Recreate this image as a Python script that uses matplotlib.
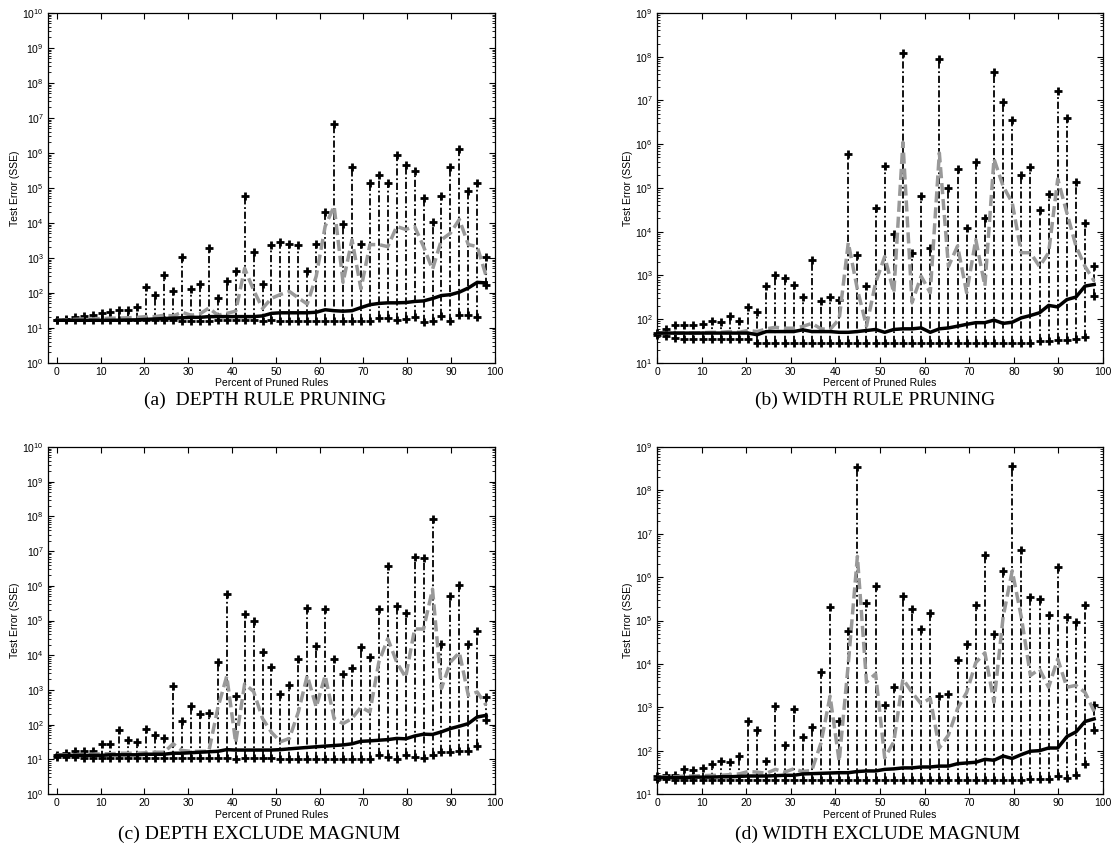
import numpy as np
import matplotlib
matplotlib.use("Agg")
import matplotlib.pyplot as plt
from matplotlib.ticker import LogLocator, MultipleLocator, NullFormatter

plt.rcParams['font.family'] = ['Liberation Sans', 'DejaVu Sans']

# --- data: percent of pruned rules, 49 pruning steps ---
pruned = np.linspace(0, 98, 49)

# (a) depth rule pruning
depth_max = [16.5, 18.5, 21, 22, 24, 27, 28, 32, 33, 40, 150, 85, 316, 110, 1050, 130, 185, 1950, 70, 215,
             435, 6e4, 1450, 180, 2400, 2800, 2500, 2300, 415, 2500, 2.1e4, 6.7e6, 9300, 3.9e5, 2500, 1.35e5,
             2.3e5, 1.35e5, 8.5e5, 4.4e5, 3.1e5, 5e4, 1.07e4, 5.8e4, 3.9e5, 1.3e6, 8e4, 1.4e5, 1070]
depth_min = [16.5, 16.5, 16.5, 16.5, 16.5, 16.5, 16.5, 16.5, 16.5, 16.5, 16.5, 16.5, 16.5, 16.5, 16, 16, 16, 16,
             16.5, 16.5, 16.5, 16.5, 16.5, 16, 16.5, 15.5, 15.5, 15.5, 15.5, 15.5, 15.5, 15.5, 15.5, 15.5, 15.5,
             15.5, 19, 19, 17, 18, 20.5, 14.5, 15.5, 21.5, 15.5, 24, 24, 20.5, 173]
depth_mean = [16.5, 17, 17.5, 18, 18, 18.5, 19, 19, 19.5, 20, 21, 21, 23, 22, 28, 23, 25, 37, 23, 26,
              30, 500, 120, 36, 70, 90, 110, 72, 48, 300, 8000, 3e4, 200, 3300, 130, 2400, 2400, 2100,
              7900, 6500, 7900, 2100, 470, 3300, 5100, 1.26e4, 2400, 2100, 300]
depth_median = [16.5, 16.5, 16.5, 16.5, 16.5, 16.5, 16.5, 16.6, 16.8, 17, 17.5, 18, 18.5, 19, 19.5, 20, 20,
                21, 21, 21, 21, 21, 21, 22, 26, 27, 27, 27, 27, 28, 33, 31, 30, 31, 38, 46, 50, 52, 52, 53,
                57, 59, 69, 84, 89, 105, 138, 200, 193]

# (b) width rule pruning
width_max = [48, 60, 73, 75, 75, 79, 93, 88, 120, 92, 187, 147, 560, 1030, 890, 610, 320, 2300, 255, 320,
             280, 5.9e5, 2900, 570, 3.4e4, 3.2e5, 8700, 1.2e8, 3300, 6.6e4, 4300, 9e7, 9.8e4, 2.7e5, 1.2e4,
             4e5, 2.1e4, 4.4e7, 9.3e6, 3.6e6, 2e5, 3e5, 3.2e4, 7.4e4, 1.66e7, 4e6, 1.4e5, 1.55e4, 1600]
width_min = [43, 41, 38, 35, 35, 35, 35, 35, 35, 35, 35, 29, 29, 29, 29, 28, 29, 29, 29, 28,
             29, 29, 29, 28, 29, 29, 29, 29, 29, 28, 29, 29, 29, 29, 29, 29, 29, 28, 29, 29,
             29, 29, 31, 32, 33, 34, 36, 40, 340]
width_mean = [48, 48, 48, 48, 48, 49, 50, 50, 52, 50, 55, 52, 60, 65, 62, 62, 68, 80, 60, 58,
              100, 5600, 480, 69, 680, 2700, 400, 1.1e6, 240, 960, 400, 6.3e5, 1600, 4700, 400, 6600,
              570, 4.6e5, 1.1e5, 4.6e4, 3300, 3300, 1600, 3300, 1.6e5, 2.7e4, 4700, 1600, 740]
width_median = [48, 48, 48, 48, 48, 48, 48, 48, 48, 48, 48, 44, 52, 52, 52, 52, 57, 52, 52, 52,
                50, 50, 52, 55, 58, 50, 58, 60, 60, 63, 50, 60, 63, 69, 76, 83, 83, 95, 80, 85,
                107, 121, 140, 206, 190, 280, 320, 570, 620]

# (c) depth exclude magnum
dex_max = [13.5, 15.5, 17, 17, 17, 28, 28, 70, 35, 32, 75, 50, 40, 1300, 130, 350, 200, 210, 6500, 5.8e5,
           650, 1.5e5, 1e5, 1.2e4, 4500, 750, 1350, 7800, 2.3e5, 1.8e4, 2.1e5, 7800, 2900, 4200, 1.7e4,
           8700, 2.1e5, 3.7e6, 2.7e5, 1.7e5, 6.9e6, 6.5e6, 8.5e7, 2.1e4, 5.2e5, 1.07e6, 2.1e4, 5.1e4, 620]
dex_min = [11.5, 11.5, 11.5, 11, 11, 11, 11, 11, 11, 11, 11, 11, 11, 11, 11, 11, 11, 11, 11, 11,
           10, 11, 11, 11, 11, 10.5, 10.5, 10, 10, 10.5, 10.5, 10.5, 10.5, 10.5, 10.5, 10.5, 13, 12, 10.5,
           13, 12, 11, 13.5, 16.5, 16.5, 17, 17, 24.5, 133]
dex_mean = [13.5, 13.5, 13.5, 14, 14, 14.5, 14.5, 15, 15, 15, 15.5, 16, 16, 28, 18, 17, 17, 17, 300, 2500,
            30, 1500, 900, 150, 60, 32, 40, 230, 2600, 320, 2600, 150, 107, 150, 320, 230, 6300, 3e4,
            6300, 2300, 5.7e4, 5.7e4, 8e5, 1100, 6300, 1.2e4, 700, 870, 360]
dex_median = [13, 13, 13, 13, 13, 13, 13.5, 13.5, 13.5, 13.5, 14, 14, 14, 15, 15, 15.5, 16, 16.5, 17, 19,
              18.5, 18.5, 18.5, 18.5, 18.5, 19, 20, 21, 22, 23, 24, 25, 26, 28, 33, 34, 35.5, 37, 40, 39,
              47, 53, 52, 62, 77, 90, 107, 166, 185]

# (d) width exclude magnum
wex_max = [26, 27, 28, 37, 36, 40, 49, 57, 55, 74, 470, 300, 59, 1070, 133, 930, 205, 350, 6600, 2.1e5,
           470, 5.6e4, 3.5e8, 2.5e5, 6.2e5, 1150, 2900, 3.7e5, 1.8e5, 6.5e4, 1.5e5, 1800, 2000, 1.2e4,
           2.9e4, 2.3e5, 3.3e6, 4.8e4, 1.4e6, 3.6e8, 4.3e6, 3.4e5, 3.1e5, 1.35e5, 1.7e6, 1.2e5, 9.2e4,
           2.3e5, 1100]
wex_min = [22, 22, 21.5, 21, 21, 21, 21, 21, 21, 21, 21, 21, 21, 21, 21, 21, 21, 21, 21, 21,
           21, 21, 21, 21, 21, 21, 21, 21, 21, 21, 21, 21, 21, 21, 21, 21.5, 21.5, 21, 21, 21,
           21.5, 22, 22, 22, 26, 24, 28, 50, 300]
wex_mean = [24, 25, 25, 26, 26, 26.5, 27, 27, 28, 29, 33, 32, 30, 37, 32, 38, 33, 35, 150, 1800,
            57, 1e4, 3e6, 3800, 5900, 68, 160, 4500, 2200, 1200, 1600, 115, 230, 930, 2200, 1.07e4,
            1.8e4, 1300, 1.2e5, 1.4e6, 1.2e5, 5400, 7600, 2900, 1.3e4, 2900, 3200, 2200, 800]
wex_median = [24, 24, 24, 24, 24.5, 24.5, 24.5, 25, 25, 25.5, 26, 26, 26, 26.5, 27, 27, 29, 29.5, 30, 30.5,
              31, 31, 33, 34, 34, 37, 38, 40, 40, 42, 42, 44, 44, 50, 52, 54, 63, 60, 75, 66,
              81, 97, 100, 115, 115, 210, 270, 470, 540]


def draw_panel(ax, mx, mn, avg, med, xlo, ylims):
    # min..max range as dash-dot whiskers with + caps
    ax.vlines(pruned, mn, mx, colors='k', linestyles=[(0, (4, 1.5, 1, 1.5))], lw=1.3, zorder=2)
    ax.plot(pruned, mx, '+', color='k', ms=6, mew=2, clip_on=False, zorder=3)
    ax.plot(pruned, mn, '+', color='k', ms=6, mew=2, clip_on=False, zorder=3)
    # mean (gray dashed) and median (black)
    ax.plot(pruned, avg, color='0.6', ls='--', lw=2.5, dashes=(3.2, 1.4), zorder=4)
    ax.plot(pruned, med, color='k', lw=2.5, zorder=5)

    ax.set_yscale('log')
    ax.set_xlim(xlo, 100)
    ax.set_ylim(*ylims)
    ax.xaxis.set_major_locator(MultipleLocator(10))
    ax.yaxis.set_major_locator(LogLocator(base=10, numticks=20))
    ax.yaxis.set_minor_locator(LogLocator(base=10, subs=np.arange(2, 10), numticks=20))
    ax.yaxis.set_minor_formatter(NullFormatter())
    ax.tick_params(which='both', direction='in', top=True, right=True, labelsize=7.5, pad=3)
    ax.tick_params(which='major', length=4, width=0.8)
    ax.tick_params(which='minor', length=2, width=0.6)
    for sp in ax.spines.values():
        sp.set_linewidth(0.9)
    ax.set_ylabel('Test Error (SSE)', fontsize=7.5, labelpad=2)
    ax.set_xlabel('Percent of Pruned Rules', fontsize=7.5, labelpad=1)


fig = plt.figure(figsize=(11.14, 8.64), dpi=100)

ax_a = fig.add_axes([0.0431, 0.580, 0.4012, 0.405])
ax_b = fig.add_axes([0.5898, 0.580, 0.4004, 0.405])
ax_c = fig.add_axes([0.0431, 0.081, 0.4012, 0.4016])
ax_d = fig.add_axes([0.5898, 0.081, 0.4004, 0.4016])

draw_panel(ax_a, depth_max, depth_min, depth_mean, depth_median, -2, (1e0, 1e10))
draw_panel(ax_b, width_max, width_min, width_mean, width_median, 0, (1e1, 1e9))
draw_panel(ax_c, dex_max, dex_min, dex_mean, dex_median, -2, (1e0, 1e10))
draw_panel(ax_d, wex_max, wex_min, wex_mean, wex_median, 0, (1e1, 1e9))

# sub-figure captions
cap = dict(family=['Liberation Serif', 'DejaVu Serif'], fontsize=14, ha='center', va='center')
fig.text(0.238, 0.537, '(a)  DEPTH RULE PRUNING', **cap)
fig.text(0.786, 0.537, '(b) WIDTH RULE PRUNING', **cap)
fig.text(0.233, 0.034, '(c) DEPTH EXCLUDE MAGNUM', **cap)
fig.text(0.788, 0.034, '(d) WIDTH EXCLUDE MAGNUM', **cap)

fig.savefig('out.png', dpi=100)
